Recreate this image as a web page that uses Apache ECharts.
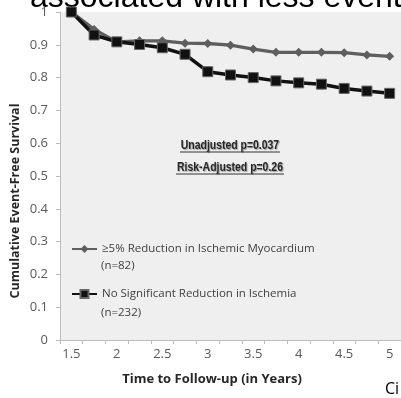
<!DOCTYPE html>
<html>
<head>
<meta charset="utf-8">
<script src="https://cdn.jsdelivr.net/npm/echarts@6/dist/echarts.min.js"></script>
<style>html,body{margin:0;padding:0;background:#fff;}#c{width:401px;height:398px;}</style>
</head>
<body>
<div id="c"></div>
<script>
var years = ["1.5","1.75","2","2.25","2.5","2.75","3","3.25","3.5","3.75","4","4.25","4.5","4.75","5"];
var reduction = [1.0,0.947,0.909,0.912,0.912,0.905,0.904,0.899,0.887,0.877,0.877,0.877,0.876,0.869,0.865];
var noReduction = [1.0,0.930,0.909,0.901,0.891,0.871,0.818,0.808,0.800,0.790,0.784,0.780,0.767,0.759,0.752];
var nameA = "\u22655% Reduction in Ischemic Myocardium";
var nameB = "No Significant Reduction in Ischemia";

var chart = echarts.init(document.getElementById('c'));
var font = "'Open Sans', 'DejaVu Sans', sans-serif";
var annFont = "bold 12px 'Liberation Sans', Arial, sans-serif";
chart.setOption({
  animation: false,
  backgroundColor: '#ffffff',
  grid: {left: 60, right: -1, top: 12, bottom: 58, show: true, backgroundColor: '#efefef', borderWidth: 0},
  xAxis: {
    type: 'category', data: years, boundaryGap: true,
    axisLine: {lineStyle: {color: '#bcbcbc', width: 1}},
    axisTick: {show: true, interval: 0, length: 4, lineStyle: {color: '#bcbcbc'}},
    axisLabel: {interval: 1, color: '#595959', fontSize: 13, fontFamily: font, margin: 8},
    splitLine: {show: false}
  },
  yAxis: {
    type: 'value', min: 0, max: 1, interval: 0.1,
    axisLine: {show: true, lineStyle: {color: '#bcbcbc', width: 1}},
    axisTick: {show: true, length: 4, lineStyle: {color: '#bcbcbc'}},
    axisLabel: {color: '#595959', fontSize: 13, fontFamily: font, margin: 12},
    splitLine: {show: false}
  },
  legend: {
    data: [nameA, nameB], orient: 'vertical', left: 66, top: 238,
    itemWidth: 25, itemHeight: 10, itemGap: 33,
    textStyle: {fontSize: 11.5, color: '#404040', fontFamily: font}
  },
  series: [
    {name: nameA, type: 'line', data: reduction, symbol: 'diamond', symbolSize: 9,
     lineStyle: {color: '#5e5e5e', width: 3.3}, itemStyle: {color: '#5e5e5e'}, z: 2},
    {name: nameB, type: 'line', data: noReduction, symbol: 'rect', symbolSize: 10,
     lineStyle: {color: '#111111', width: 3.5}, itemStyle: {color: '#111111', borderColor: '#666', borderWidth: 1}, z: 3}
  ],
  graphic: [
    {type: 'text', left: 30, top: -18, z: -1, style: {text: 'associated with less event', font: "32px 'Liberation Sans', Arial, sans-serif", fill: '#000'}},
    {type: 'text', x: 15, y: 201, rotation: Math.PI/2, style: {text: 'Cumulative Event-Free Survival', font: "bold 12.5px " + font, fill: '#262626', align: 'center', verticalAlign: 'middle'}},
    {type: 'text', x: 212, y: 379, style: {text: 'Time to Follow-up (in Years)', font: "bold 13px " + font, fill: '#262626', align: 'center', verticalAlign: 'middle'}},
    {type: 'text', x: 101, y: 266, style: {text: '(n=82)', font: "11.5px " + font, fill: '#404040', verticalAlign: 'middle'}},
    {type: 'text', x: 101, y: 313, style: {text: '(n=232)', font: "11.5px " + font, fill: '#404040', verticalAlign: 'middle'}},
    {type: 'text', x: 230, y: 146, scaleX: 0.87, style: {text: 'Unadjusted p=0.037', font: annFont, fill: '#262626', align: 'center', verticalAlign: 'middle', textShadowColor: 'rgba(0,0,0,0.35)', textShadowOffsetX: 1, textShadowOffsetY: 1, textShadowBlur: 1}},
    {type: 'line', shape: {x1: 180, y1: 152, x2: 280, y2: 152}, style: {stroke: '#333', lineWidth: 1}},
    {type: 'text', x: 230, y: 168, scaleX: 0.87, style: {text: 'Risk-Adjusted p=0.26', font: annFont, fill: '#262626', align: 'center', verticalAlign: 'middle', textShadowColor: 'rgba(0,0,0,0.35)', textShadowOffsetX: 1, textShadowOffsetY: 1, textShadowBlur: 1}},
    {type: 'line', shape: {x1: 176, y1: 174, x2: 284, y2: 174}, style: {stroke: '#333', lineWidth: 1}},
    {type: 'text', x: 385, y: 389, style: {text: 'Ci', font: "16px " + font, fill: '#000', verticalAlign: 'middle'}}
  ]
});
</script>
</body>
</html>
